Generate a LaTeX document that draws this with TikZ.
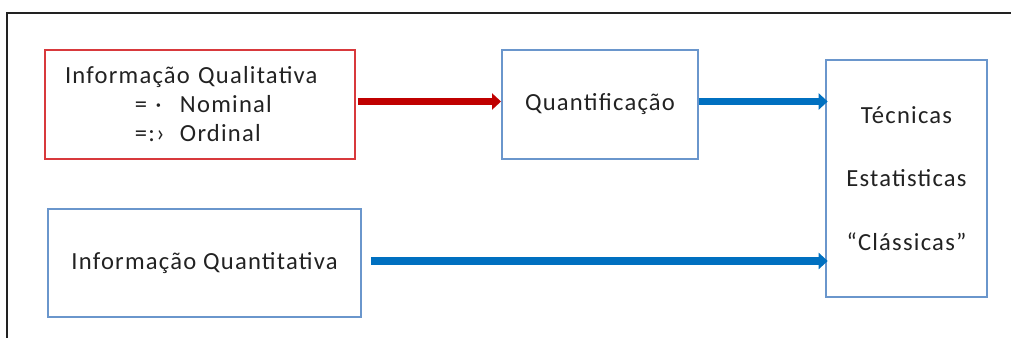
\documentclass[tikz,border=0pt]{standalone}
\usepackage{fontspec}
\newfontfamily\boxfont{Carlito}[LetterSpace=5]
\usetikzlibrary{positioning, arrows.meta}

\definecolor{boxred}{HTML}{D8393C}
\definecolor{boxblue}{HTML}{6A96CC}
\definecolor{arrred}{HTML}{C00000}
\definecolor{arrblue}{HTML}{0070C0}
\definecolor{txtgray}{HTML}{222222}

\begin{document}
\begin{tikzpicture}[
    infobox/.style = {draw=boxblue, line width=1.1pt, text=txtgray,
                      font=\boxfont\fontsize{14}{16.5}\selectfont},
    redarrow/.style = {draw=arrred, line width=0.14cm,
                       -{Triangle[length=0.18cm, width=0.32cm]}},
    bluearrow/.style = {draw=arrblue, line width=0.15cm,
                        -{Triangle[length=0.18cm, width=0.32cm]}}
  ]
  \useasboundingbox (0,0) rectangle (20.22,-6.76);
  % frame
  \draw[txtgray, line width=1.2pt] (20.22,-0.26) -- (0.14,-0.26) -- (0.14,-6.76);

  \node[infobox, draw=boxred, inner xsep=0.4cm, text width=5.4cm, minimum height=2.18cm, align=left] (qual) at (4.0,-2.09)
    {Informação Qualitativa\\
     \hspace*{1.4cm}\makebox[0.9cm][l]{= ·}Nominal\\
     \hspace*{1.4cm}\makebox[0.9cm][l]{=:›}Ordinal};
  \node[infobox, minimum width=3.92cm, minimum height=2.18cm] (quantif) at (12.0,-2.09) {Quantificação};
  \node[infobox, line width=1.5pt, minimum width=3.22cm, minimum height=4.74cm, align=center,
        font=\boxfont\fontsize{14}{36}\selectfont] (tec) at (18.13,-3.57)
    {Técnicas\\ Estatisticas\\ “Clássicas”};
  \node[infobox, minimum width=6.26cm, minimum height=2.16cm] (quanti) at (4.09,-5.26) {Informação Quantitativa};

  \coordinate[right=0.18cm of quanti.east, yshift=0.04cm] (q2);
  \coordinate[yshift=0.06cm] (q1) at (quantif.east);
  \path[redarrow] ([xshift=0.04cm, yshift=0.06cm]qual.east) -- ([yshift=0.06cm]quantif.west);
  \path[bluearrow] (q1) -- ([xshift=0.06cm]tec.west |- q1);
  \path[bluearrow] (q2) -- ([xshift=0.06cm]tec.west |- q2);
\end{tikzpicture}
\end{document}
